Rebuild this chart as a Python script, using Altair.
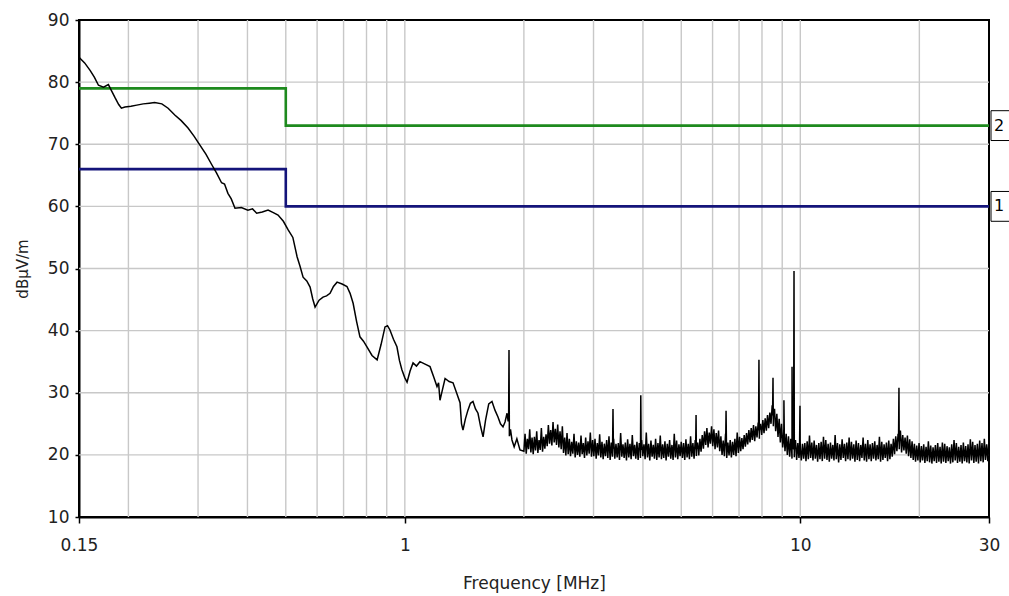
import altair as alt
import numpy as np
import pandas as pd

# Measured field strength, 0.15 - 1.96 MHz (broadband part of the sweep)
low_freq = [0.150, 0.155, 0.160, 0.164, 0.168, 0.173, 0.178, 0.182, 0.185, 0.189,
            0.192, 0.196, 0.203, 0.210, 0.218, 0.226, 0.233, 0.243, 0.252, 0.262,
            0.272, 0.283, 0.293, 0.303, 0.314, 0.325, 0.334, 0.344, 0.350, 0.357,
            0.364, 0.372, 0.386, 0.401, 0.412, 0.422, 0.436, 0.451, 0.465, 0.478,
            0.493, 0.507, 0.521, 0.534, 0.543, 0.553, 0.565, 0.576, 0.585, 0.593,
            0.607, 0.621, 0.634, 0.647, 0.660, 0.674, 0.694, 0.714, 0.727, 0.740,
            0.755, 0.770, 0.786, 0.802, 0.826, 0.851, 0.871, 0.891, 0.904, 0.917,
            0.936, 0.955, 0.969, 0.983, 1.000, 1.013, 1.031, 1.049, 1.070, 1.092,
            1.125, 1.158, 1.182, 1.206, 1.217, 1.227, 1.245, 1.264, 1.294, 1.324,
            1.350, 1.379, 1.391, 1.403, 1.423, 1.444, 1.465, 1.487, 1.509, 1.531,
            1.554, 1.577, 1.600, 1.630, 1.661, 1.690, 1.720, 1.745, 1.771, 1.792,
            1.813, 1.825, 1.830, 1.834, 1.838, 1.850, 1.866, 1.890, 1.920, 1.955]
low_level = [84.0, 83.1, 81.9, 80.8, 79.5, 79.2, 79.6, 78.4, 77.5, 76.4,
             75.8, 76.0, 76.1, 76.3, 76.5, 76.6, 76.7, 76.5, 75.8, 74.7,
             73.8, 72.6, 71.3, 69.9, 68.4, 66.7, 65.4, 63.8, 63.6, 62.1,
             61.2, 59.7, 59.8, 59.4, 59.6, 58.9, 59.1, 59.4, 59.0, 58.6,
             57.6, 56.2, 55.0, 51.9, 50.4, 48.6, 48.0, 47.0, 45.1, 43.8,
             44.9, 45.4, 45.6, 46.0, 47.1, 47.8, 47.5, 47.1, 46.0, 44.4,
             41.5, 39.0, 38.3, 37.4, 36.0, 35.3, 37.8, 40.6, 40.8, 40.1,
             38.6, 37.4, 35.2, 33.7, 32.4, 31.7, 33.5, 34.8, 34.3, 35.0,
             34.6, 34.2, 32.6, 31.0, 31.6, 28.8, 30.5, 32.3, 31.8, 31.6,
             30.1, 28.4, 25.0, 24.0, 25.8, 27.2, 28.3, 28.6, 27.4, 26.7,
             24.6, 22.9, 25.6, 28.2, 28.6, 27.2, 26.1, 25.0, 24.5, 25.3,
             26.7, 25.4, 26.0, 36.9, 23.0, 24.1, 22.4, 21.3, 22.6, 20.8]

# Noise floor from 2 to 30 MHz: maximum and minimum seen in each of
# 200 log-spaced display bins
floor_start = 2.0
floor_stop = 30.0
floor_hi = [
    23.4, 22.6, 24.1, 22.8, 22.9, 23.8, 22.4, 24.3, 22.9, 23.3,
    24.8, 24.0, 25.3, 24.2, 24.9, 23.8, 24.6, 22.8, 23.5, 22.6,
    22.1, 23.4, 22.2, 22.0, 23.1, 21.9, 22.8, 22.2, 23.6, 22.4,
    22.6, 21.9, 23.3, 22.1, 21.8, 22.4, 23.0, 22.0, 22.6, 21.8,
    21.9, 23.5, 21.7, 22.0, 22.5, 21.8, 23.2, 21.6, 22.1, 21.9,
    22.4, 21.7, 23.6, 21.8, 22.3, 21.6, 22.6, 21.9, 23.1, 21.7,
    22.2, 21.8, 22.4, 21.6, 23.4, 22.3, 21.7, 22.1, 21.9, 22.5,
    21.8, 23.0, 21.9, 22.4, 22.0, 22.6, 23.2, 23.8, 24.3, 23.6,
    24.6, 24.1, 23.5, 23.9, 23.0, 22.3, 23.4, 22.0, 22.4, 22.1,
    22.6, 23.6, 22.9, 22.7, 23.2, 23.5, 24.0, 24.3, 24.8, 24.6,
    25.2, 25.0, 25.6, 25.9, 26.4, 26.8, 28.0, 27.4, 26.6, 25.8,
    25.0, 24.2, 23.4, 23.0, 22.6, 22.2, 22.4, 21.9, 22.1, 21.8,
    21.9, 22.2, 23.1, 22.0, 22.3, 21.6, 21.9, 22.1, 22.9, 22.4,
    21.8, 22.0, 21.6, 23.2, 21.9, 21.7, 22.5, 21.8, 22.0, 22.8,
    22.1, 21.7, 22.3, 21.9, 21.6, 22.8, 21.8, 22.4, 21.7, 21.9,
    22.2, 21.6, 22.9, 22.1, 21.7, 22.0, 22.3, 21.8, 22.6, 23.0,
    23.4, 23.9, 23.2, 22.8, 23.1, 22.5, 22.2, 21.8, 21.5, 21.9,
    21.4, 21.7, 21.3, 22.2, 21.5, 21.2, 21.6, 21.9, 21.3, 22.0,
    21.8, 21.4, 21.2, 21.7, 22.4, 21.9, 21.3, 21.6, 22.0, 21.4,
    21.7, 22.5, 22.1, 21.6, 21.8, 22.3, 21.9, 22.6, 21.7, 22.4,
]
floor_lo = [
    20.6, 20.2, 20.9, 20.4, 20.1, 20.7, 20.3, 20.8, 20.5, 21.0,
    21.4, 21.8, 21.5, 22.0, 21.6, 21.2, 20.9, 20.3, 19.9, 20.1,
    19.8, 20.2, 19.6, 20.0, 19.7, 20.1, 19.5, 19.9, 20.2, 19.7,
    19.8, 19.4, 19.9, 19.6, 19.3, 19.8, 19.5, 19.2, 19.7, 19.4,
    19.6, 19.2, 19.7, 19.5, 19.1, 19.6, 19.3, 19.8, 19.4, 19.2,
    19.5, 19.8, 19.3, 19.6, 19.1, 19.7, 19.4, 19.2, 19.6, 19.3,
    19.5, 19.1, 19.7, 19.4, 19.2, 19.6, 19.3, 19.8, 19.5, 19.2,
    19.6, 19.3, 19.7, 19.4, 19.8, 19.9, 20.5, 21.0, 21.6, 21.2,
    21.8, 21.4, 20.9, 21.2, 20.6, 20.0, 19.8, 19.5, 19.9, 19.6,
    20.0, 19.8, 20.3, 20.6, 20.9, 21.3, 21.7, 22.0, 22.4, 22.2,
    22.8, 22.6, 23.2, 23.5, 23.9, 24.3, 25.0, 24.6, 23.8, 22.9,
    22.0, 21.2, 20.6, 20.0, 19.7, 19.4, 19.6, 19.2, 19.5, 19.1,
    19.4, 19.0, 19.3, 19.5, 19.1, 19.4, 18.9, 19.3, 19.0, 19.4,
    19.2, 18.9, 19.4, 19.1, 19.3, 18.8, 19.2, 19.5, 19.0, 19.3,
    19.1, 19.4, 18.9, 19.2, 19.0, 19.5, 19.1, 18.9, 19.3, 19.0,
    19.4, 19.1, 19.3, 18.9, 19.2, 19.5, 19.0, 19.3, 19.7, 20.1,
    20.6, 20.9, 20.4, 20.7, 20.2, 19.8, 19.5, 19.2, 18.9, 19.1,
    18.8, 19.1, 18.7, 19.0, 18.8, 18.6, 19.0, 18.7, 18.9, 18.6,
    18.9, 18.7, 19.0, 18.6, 18.8, 19.1, 18.7, 18.9, 18.6, 19.0,
    18.8, 18.6, 19.1, 18.7, 18.9, 18.6, 19.0, 18.8, 19.2, 19.0,
]

# Narrow-band emissions on top of the floor
spike_freq = [3.36, 3.95, 5.45, 6.49, 7.86, 8.53, 9.09, 9.53, 9.64, 9.98, 17.76]
spike_level = [27.4, 29.6, 26.4, 27.1, 35.3, 32.4, 28.8, 34.2, 49.6, 27.9, 30.8]

# Limit lines (stepped at 0.5 MHz)
limit_freq = [0.15, 0.5, 0.5, 30.0]
limit_2 = [79, 79, 73, 73]
limit_1 = [66, 66, 60, 60]
limit_tags = ["2", "1"]
limit_tag_level = [73, 60]

# Axis ticks and grid
x_label_values = [0.15, 1, 10, 30]
x_grid = [0.2, 0.3, 0.4, 0.5, 0.6, 0.7, 0.8, 0.9, 1,
          2, 3, 4, 5, 6, 7, 8, 9, 10, 20]
y_grid = [20, 30, 40, 50, 60, 70, 80]
y_tick_values = list(range(10, 91, 5))

# ---- assemble the trace ----
# each display bin contributes its minimum then its maximum
floor_freq = np.geomspace(floor_start, floor_stop, 2 * len(floor_hi))
floor_level = [v for pair in zip(floor_lo, floor_hi) for v in pair]
floor_mid = [(a + b) / 2 for a, b in zip(floor_lo, floor_hi)]
mid_freq = floor_freq[1::2]

freqs = list(low_freq) + list(floor_freq)
levels = list(low_level) + list(floor_level)
for f, p in zip(spike_freq, spike_level):
    base = float(np.interp(np.log10(f), np.log10(mid_freq), floor_mid))
    freqs += [f / 1.0025, f, f * 1.0025]
    levels += [base, p, base]
trace = pd.DataFrame({"freq": freqs, "level": levels}).sort_values("freq")
trace["idx"] = np.arange(len(trace))

limits = pd.DataFrame({
    "freq": limit_freq * 2,
    "level": limit_2 + limit_1,
    "line": ["2"] * 4 + ["1"] * 4,
    "idx": list(range(4)) * 2,
})
tags = pd.DataFrame({"tag": limit_tags, "level": limit_tag_level})
tags["top"] = tags["level"] + 2.4
tags["bottom"] = tags["level"] - 2.4

W, H = 910, 497
FONT = "DejaVu Sans"

x_scale = alt.Scale(type="log", domain=[0.15, 30], nice=False)
y_scale = alt.Scale(domain=[10, 90], nice=False, zero=False)

x_axis = alt.Axis(values=x_label_values, format="~g", grid=False,
                  labelFlush=False, labelOverlap=False,
                  tickSize=6, labelPadding=14, labelFontSize=17,
                  labelFont=FONT, labelColor="#222", tickColor="black",
                  domainColor="black", domainWidth=2, tickWidth=1.5,
                  title="Frequency [MHz]", titleFont=FONT, titleFontSize=17,
                  titleFontWeight="normal", titleColor="#222",
                  titleX=W / 2, titleY=66, titleBaseline="middle")
y_axis = alt.Axis(values=y_tick_values, grid=False, tickSize=4,
                  labelExpr="datum.value % 10 == 0 ? datum.label : ''",
                  labelPadding=6, labelFontSize=17, labelFont=FONT,
                  labelColor="#222", tickColor="black", domainColor="black",
                  domainWidth=2, tickWidth=1.5, labelFlush=False,
                  title="dBµV/m", titleFont=FONT, titleFontSize=15,
                  titleFontWeight="normal", titleColor="#222",
                  titleAngle=-90, titleX=-57, titleY=H / 2,
                  titleAlign="center", titleBaseline="middle")

vgrid = alt.Chart(pd.DataFrame({"freq": x_grid})).mark_rule(
    color="#c8c8c8", strokeWidth=1.4
).encode(x=alt.X("freq:Q", scale=x_scale, axis=x_axis))

hgrid = alt.Chart(pd.DataFrame({"level": y_grid})).mark_rule(
    color="#c8c8c8", strokeWidth=1.4
).encode(y=alt.Y("level:Q", scale=y_scale, axis=y_axis))

limit_lines = alt.Chart(limits).mark_line(strokeWidth=2.6).encode(
    x=alt.X("freq:Q", scale=x_scale),
    y=alt.Y("level:Q", scale=y_scale),
    color=alt.Color("line:N", scale=alt.Scale(domain=["2", "1"],
                                              range=["#1e8a1e", "#14147a"]),
                    legend=None),
    order="idx:Q",
)

trace_line = alt.Chart(trace).mark_line(color="black", strokeWidth=1.5).encode(
    x=alt.X("freq:Q", scale=x_scale),
    y=alt.Y("level:Q", scale=y_scale),
    order="idx:Q",
)

tag_boxes = alt.Chart(tags).mark_rect(fill="white", stroke="black", strokeWidth=1).encode(
    x=alt.value(W + 2), x2=alt.value(W + 40),
    y=alt.Y("top:Q", scale=y_scale), y2="bottom:Q",
)
tag_text = alt.Chart(tags).mark_text(
    font=FONT, fontSize=16, align="left", baseline="middle", color="black"
).encode(
    x=alt.value(W + 5),
    y=alt.Y("level:Q", scale=y_scale),
    text="tag:N",
)

chart = alt.layer(
    vgrid, hgrid, limit_lines, trace_line, tag_boxes, tag_text
).properties(
    width=W, height=H,
    autosize=alt.AutoSizeParams(type="none"),
    padding={"left": 79, "top": 20, "right": 20, "bottom": 79},
    background="white",
).configure_view(stroke="black", strokeWidth=2)

chart.save("out.html", embed_options={"renderer": "svg", "actions": False})
